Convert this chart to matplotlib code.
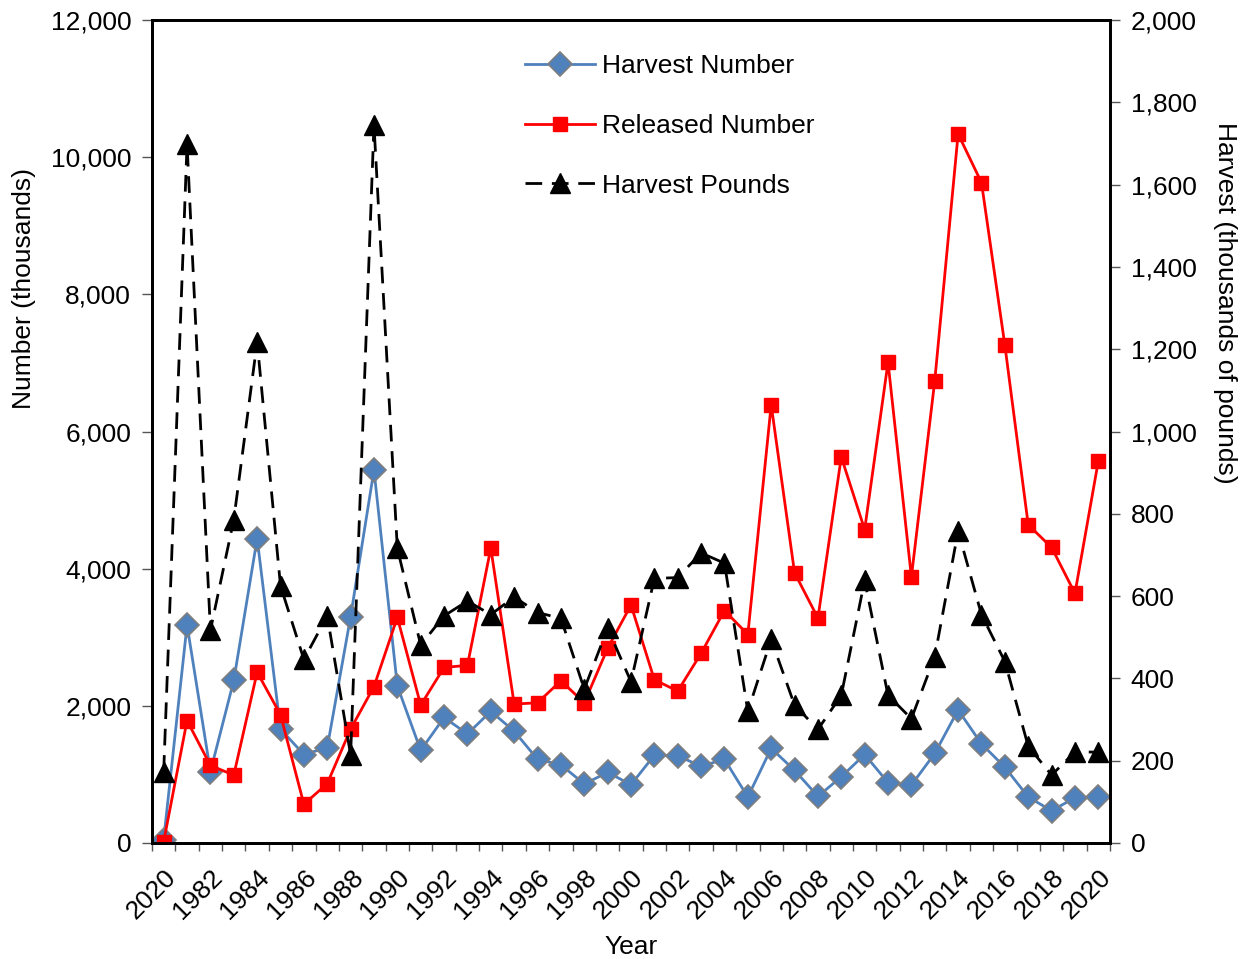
import matplotlib
matplotlib.use("Agg")
import matplotlib.pyplot as plt
from matplotlib.ticker import FuncFormatter

plt.rcParams['font.family'] = ['Liberation Sans', 'DejaVu Sans']

years = list(range(1980, 2021))

# thousands of fish
harvest_number = [50, 3180, 1040, 2370, 4440, 1660, 1290, 1390, 3300, 5440,
                  2290, 1350, 1830, 1590, 1920, 1630, 1220, 1140, 860, 1030,
                  850, 1280, 1270, 1120, 1220, 670, 1380, 1060, 680, 965,
                  1290, 880, 845, 1305, 1940, 1445, 1105, 670, 470, 660, 670]
released_number = [20, 1785, 1130, 990, 2490, 1870, 565, 865, 1660, 2280,
                   3290, 2010, 2560, 2590, 4300, 2025, 2045, 2365, 2045, 2840,
                   3470, 2380, 2215, 2765, 3390, 3040, 6390, 3940, 3280, 5630,
                   4570, 7010, 3880, 6740, 10340, 9630, 7260, 4640, 4310, 3640, 5570]
# thousands of pounds
harvest_pounds = [173, 1698, 517, 786, 1218, 625, 446, 552, 214, 1745,
                  716, 481, 552, 588, 555, 598, 560, 546, 374, 522,
                  392, 643, 645, 705, 680, 320, 495, 335, 276, 359,
                  638, 359, 302, 453, 758, 555, 441, 235, 165, 221, 221]

tick_years = years[::2]
tick_labels = ['2020'] + [str(y) for y in tick_years[1:]]

fs = 19
fig = plt.figure(figsize=(12.5, 9.59), dpi=100)
ax = fig.add_axes([0.1216, 0.121, 0.7664, 0.858])
ax2 = ax.twinx()

l1, = ax.plot(years, harvest_number, color='#4F81BD', lw=2.0, marker='D',
              markersize=12.5, markerfacecolor='#4F81BD', markeredgecolor='#7F7F7F',
              markeredgewidth=1.2, label='Harvest Number', zorder=2)
l2, = ax.plot(years, released_number, color='#FF0000', lw=2.0, marker='s',
              markersize=10.5, markerfacecolor='#FF0000', markeredgecolor='#FF0000',
              label='Released Number', zorder=3)
l3, = ax2.plot(years, harvest_pounds, color='black', lw=2.0, dashes=(6, 3.5),
               marker='^', markersize=14.5, markerfacecolor='black',
               markeredgecolor='black', label='Harvest Pounds')

ax.set_xlim(1979.5, 2020.5)
ax.set_ylim(0, 12000)
ax2.set_ylim(0, 2000)
ax.set_yticks(range(0, 12001, 2000))
ax2.set_yticks(range(0, 2001, 200))
fmt = FuncFormatter(lambda v, p: f'{v:,.0f}')
ax.yaxis.set_major_formatter(fmt)
ax2.yaxis.set_major_formatter(fmt)

# category-style ticks between years, labels on every other year
ax.set_xticks([y + 0.5 for y in years[:-1]] + [1979.5, 2020.5])
ax.set_xticklabels([])
ax.set_xticks(tick_years, minor=True)
ax.set_xticklabels(tick_labels, minor=True, rotation=45, ha='right',
                   rotation_mode='anchor', fontsize=fs)
ax.tick_params(axis='x', which='major', direction='out', length=6, width=1, color='#555555')
ax.tick_params(axis='x', which='minor', length=0, pad=16)
ax.tick_params(axis='y', direction='out', length=7, width=1, labelsize=fs, pad=8, color='#555555')
ax2.tick_params(axis='y', direction='out', length=7, width=1, labelsize=fs, pad=8, color='#555555')

for a in (ax, ax2):
    for s in a.spines.values():
        s.set_linewidth(2.0)
        s.set_color('black')

ax.set_xlabel('Year', fontsize=fs, labelpad=8)
ax.set_ylabel('Number (thousands)', fontsize=fs)
ax2.set_ylabel('Harvest (thousands of pounds)', fontsize=fs, rotation=270)
ax.yaxis.set_label_coords(-0.121, 0.674)
ax2.yaxis.set_label_coords(1.133, 0.656)

fig.legend(handles=[l1, l2, l3], loc='upper left', bbox_to_anchor=(0.401, 0.968),
           frameon=False, fontsize=fs, handlelength=2.65, handletextpad=0.25,
           labelspacing=1.35)

fig.savefig('out.png', dpi=100)
